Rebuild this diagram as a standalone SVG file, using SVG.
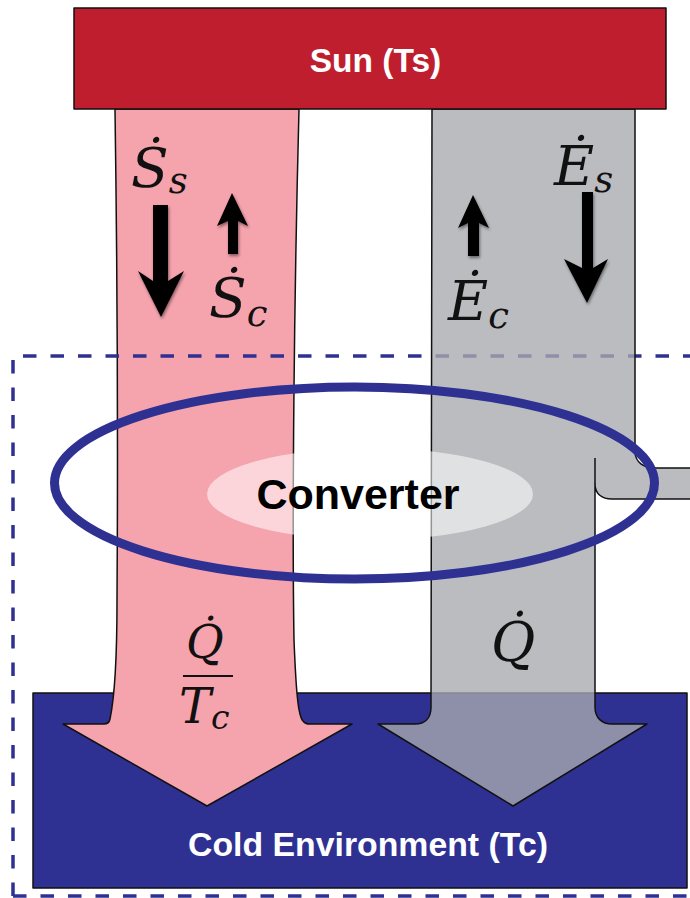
<svg xmlns="http://www.w3.org/2000/svg" width="690" height="898" viewBox="0 0 690 898">
<style>
.label{font-family:"Liberation Sans",Arial,sans-serif;font-weight:bold;text-anchor:middle}
.math{font-family:"DejaVu Serif","Liberation Serif",serif;font-style:italic;fill:#111}
.edge{stroke:#111;stroke-width:1.5;stroke-linejoin:round}
</style>
<defs>
<filter id="sh" x="-50%" y="-50%" width="200%" height="200%">
<feDropShadow dx="1" dy="2" stdDeviation="1.5" flood-color="#000" flood-opacity="0.45"/>
</filter>
</defs>
<rect width="690" height="898" fill="#fff"/>
<g id="cold">
<rect x="33" y="693" width="654" height="195" fill="#2e3192" class="edge"/>
<text class="label" x="368" y="856" font-size="33.8" fill="#fff">Cold Environment (Tc)</text>
</g>
<g id="entropy-flow">
<path class="edge" fill="#f5a3ad" d="M115,109 H299 C294,300 292,520 294,640 C296,690 298,716 303,721 Q305,724 310,724 H352 L207,806 L63,724 H104 Q109,724 110,719 C114,700 117,660 117,600 C118,450 117,250 115,109 Z"/>
</g>
<g id="boundary">
<path d="M13,896 V356 H700 M13,896 H700" fill="none" stroke="#2e3192" stroke-width="3.5" stroke-dasharray="13.5 14"/>
</g>
<g id="energy-flow">
<path class="edge" fill="rgb(168,170,175)" fill-opacity="0.785" d="M432,109 H635 V453 C636,462 643,468 655,468 H692 V499 H612 C602,499 595,494 595,484 V707 C595,718 602,724 612,724 H647 L513,806 L378,724 H415 C425,724 431,718 431,707 Z"/>
<path class="edge" fill="none" d="M595,458 V484"/>
</g>
<g id="converter">
<ellipse cx="354.5" cy="483" rx="300" ry="96" fill="none" stroke="#2e3192" stroke-width="9"/>
<ellipse cx="370" cy="494" rx="163" ry="46" fill="#fff" fill-opacity="0.55"/>
<text class="label" x="358" y="509" font-size="43" fill="#000">Converter</text>
</g>
<g id="sun">
<rect x="74" y="8" width="592" height="101" fill="#be1e2d" class="edge"/>
<text class="label" x="375.5" y="72" font-size="33.5" fill="#fff">Sun (Ts)</text>
</g>
<g id="flux-arrows" fill="#000" filter="url(#sh)">
<polygon points="153,205 168,205 168,281 184,271 161,317 138,271 153,281"/>
<polygon points="232,193 248,226 238,221 238,254 228,254 228,221 217,226"/>
<polygon points="582,192 593,192 593,268 608,259 587,303 564,259 582,268"/>
<polygon points="473,195 489,228 479,223 479,256 468,256 468,223 458,228"/>
</g>
<g id="math-labels">
<text class="math" x="131" y="187" font-size="55">Ṡ<tspan font-size="37" dy="6">s</tspan></text>
<text class="math" x="209" y="317" font-size="55">Ṡ<tspan font-size="37" dy="9">c</tspan></text>
<text class="math" x="554" y="185" font-size="55">Ė<tspan font-size="37" dy="7">s</tspan></text>
<text class="math" x="448" y="320" font-size="55">Ė<tspan font-size="37" dy="8">c</tspan></text>
<text class="math" x="186" y="658" font-size="46">Q̇</text>
<rect x="183" y="675" width="50" height="2" fill="#111"/>
<text class="math" x="179" y="723" font-size="48">T<tspan font-size="33" dy="6">c</tspan></text>
<text class="math" x="491" y="661" font-size="54">Q̇</text>
</g>
</svg>
